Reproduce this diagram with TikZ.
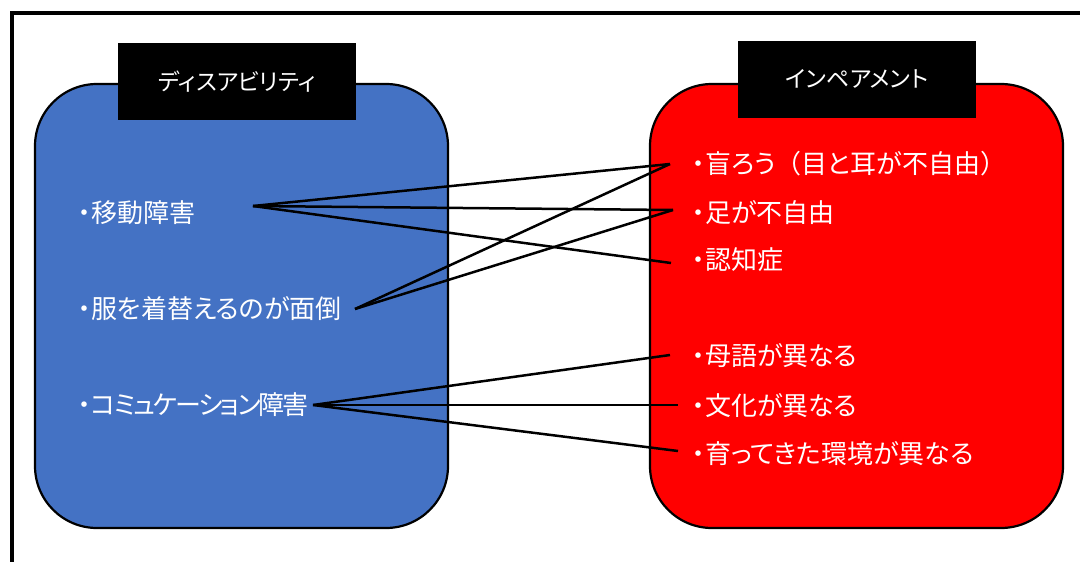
\documentclass[tikz,border=0pt]{standalone}
\usepackage{fontspec}
\setmainfont{Noto Sans CJK JP}[RawFeature=+palt]
\newfontfamily\fullwidthfont{Noto Sans CJK JP}
\definecolor{blueC}{HTML}{4472C4}
\definecolor{redC}{HTML}{FF0000}
\begin{document}
\begin{tikzpicture}[x=1pt,y=-1pt,
 item/.style={text=white, font=\fontsize{26}{30}\selectfont, anchor=west, inner sep=0pt},
 tag/.style={fill=black, text=white, font=\fontsize{23}{27}\selectfont, minimum width=238pt, minimum height=77pt, inner sep=0pt},
 panel/.style={draw=black, line width=2.2pt, rounded corners=62pt, minimum width=413pt, minimum height=444pt, inner sep=0pt},
 link/.style={line width=2.5pt, draw=black}]
\useasboundingbox (0,0) rectangle (1080,562);
\clip (0,0) rectangle (1080,562);
\draw[line width=4pt] (11.5,12.5) rectangle (1120,620);
\node[panel, fill=blueC] (dis) at (241.5,306) {};
\node[panel, fill=redC] (imp) at (856.5,306) {};
\node[tag] (distag) at (237,81.5) {ディスアビリティ};
\node[tag] (imptag) at (857,79) {インペアメント};
% left items
\node[item] (l1) at (78,212.5) {・移動障害};
\node[item] (l2) at (78,308.5) {・服を着替えるのが面倒};
\node[item] (l3) at (78,405) {・{\addfontfeature{LetterSpace=-8}コミュケーション障害}};
% right items
\node[item] (r1) at (692,164) {・盲ろう{\fullwidthfont （}目と耳が不自由{\fullwidthfont ）}};
\node[item] (r2) at (692,212.5) {・足が不自由};
\node[item] (r3) at (692,260) {・認知症};
\node[item] (r4) at (692,356) {・母語が異なる};
\node[item] (r5) at (692,406) {・文化が異なる};
\node[item] (r6) at (692,453.5) {・育ってきた環境が異なる};
% connector ends
\coordinate (a1) at (253,206);
\coordinate (a2) at (355,309);
\coordinate (a3) at (313,405);
\coordinate (b1) at (670,164);
\coordinate (b2) at (673,210);
\coordinate (b3) at (671,263);
\coordinate (b4) at (670,355);
\coordinate (b5) at (678,405);
\coordinate (b6) at (678,451);
\draw[link] (a1) -- (b1);
\draw[link] (a1) -- (b2);
\draw[link] (a1) -- (b3);
\draw[link] (a2) -- (b1);
\draw[link] (a2) -- (b2);
\draw[link] (a3) -- (b4);
\draw[link] (a3) -- (b5);
\draw[link] (a3) -- (b6);
\end{tikzpicture}
\end{document}
